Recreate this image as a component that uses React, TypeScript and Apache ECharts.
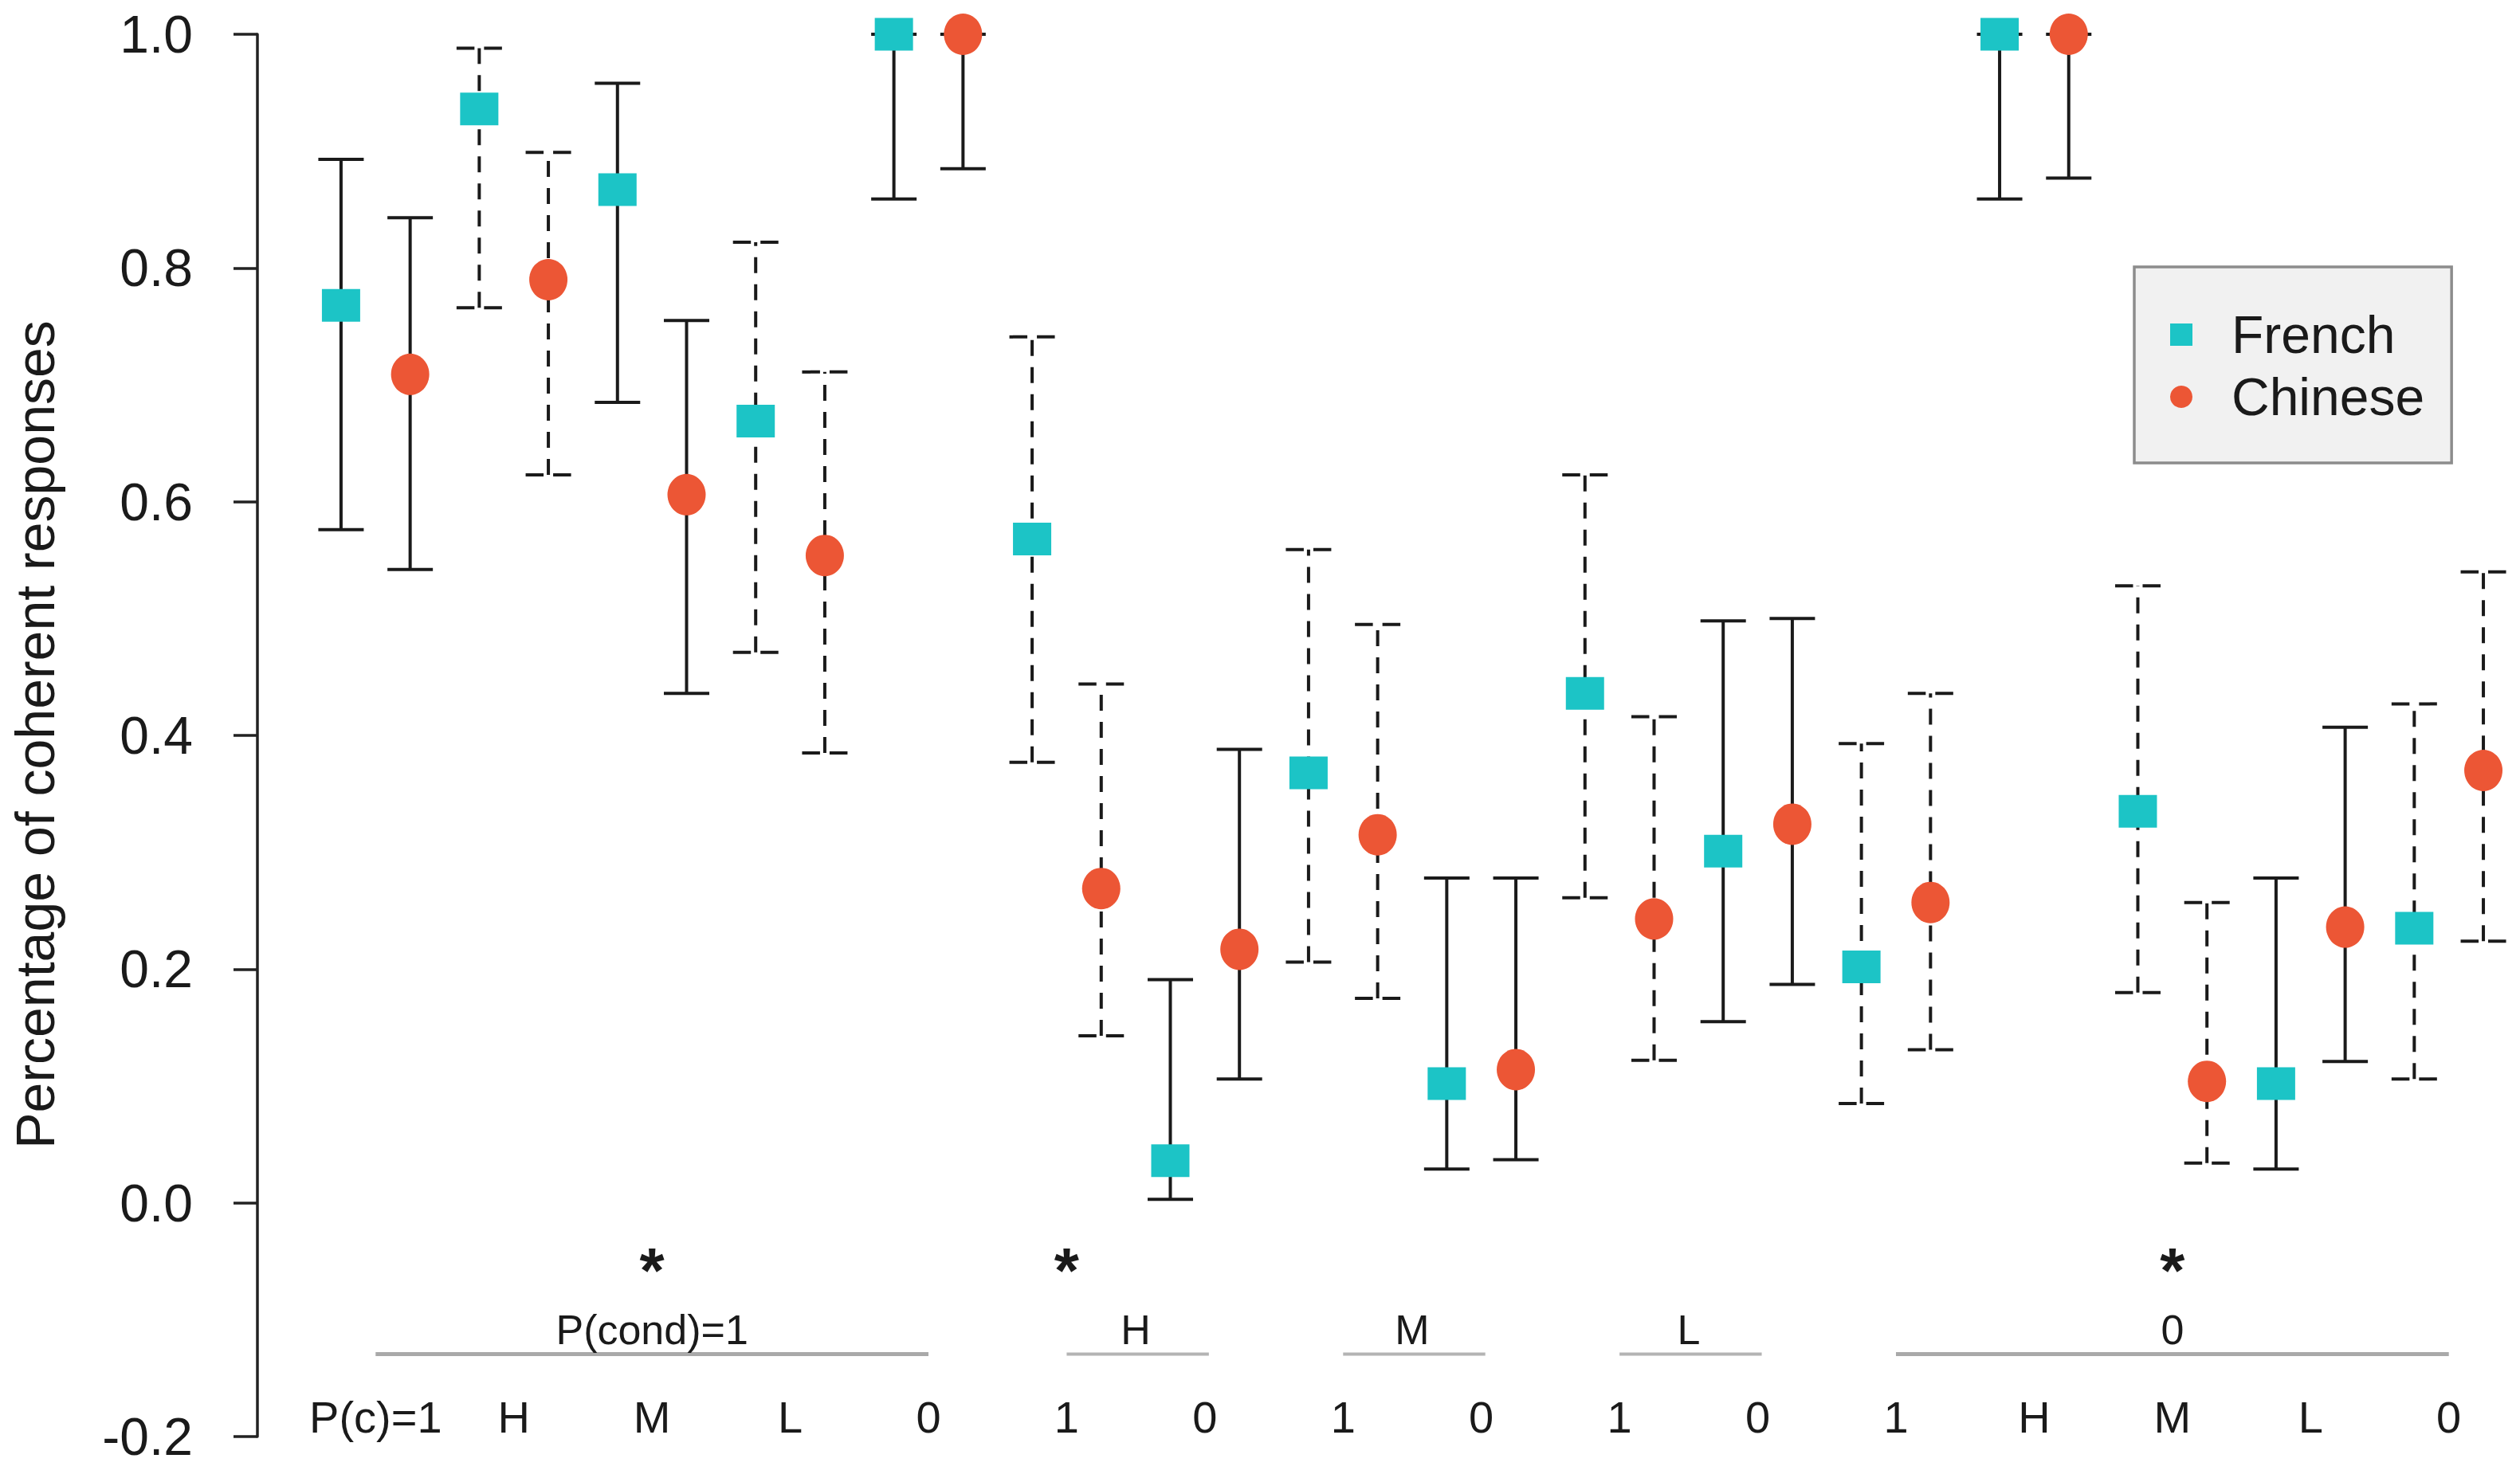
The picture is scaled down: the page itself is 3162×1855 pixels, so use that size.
import React, { useEffect, useRef } from "react";
import * as echarts from "echarts";

// ---------- data ----------
const pairLabels = ["P(c)=1", "H", "M", "L", "0", "1", "0", "1", "0", "1", "0", "1", "H", "M", "L", "0"];
const dashedPairs = [false, true, false, true, false, true, false, true, false, true, false, true, false, true, false, true];

const frenchMean = [0.768, 0.936, 0.867, 0.669, 1.0, 0.568, 0.036, 0.368, 0.102, 0.436, 0.301, 0.202, 1.0, 0.335, 0.102, 0.235];
const frenchLow = [0.576, 0.766, 0.685, 0.471, 0.859, 0.377, 0.003, 0.206, 0.029, 0.261, 0.155, 0.085, 0.859, 0.18, 0.029, 0.106];
const frenchHigh = [0.893, 0.988, 0.958, 0.822, 1.0, 0.741, 0.191, 0.559, 0.278, 0.623, 0.498, 0.393, 1.0, 0.528, 0.278, 0.427];

const chineseMean = [0.709, 0.79, 0.606, 0.554, 1.0, 0.269, 0.217, 0.315, 0.114, 0.243, 0.324, 0.257, 1.0, 0.104, 0.236, 0.37];
const chineseLow = [0.542, 0.623, 0.436, 0.385, 0.885, 0.143, 0.106, 0.175, 0.037, 0.122, 0.187, 0.131, 0.877, 0.034, 0.121, 0.224];
const chineseHigh = [0.843, 0.899, 0.755, 0.711, 1.0, 0.444, 0.388, 0.495, 0.278, 0.416, 0.5, 0.436, 1.0, 0.257, 0.407, 0.54];

const groupNames = ["P(cond)=1", "H", "M", "L", "0"];
const groupStartPair = [0, 5, 7, 9, 11];
const groupEndPair = [4, 6, 8, 10, 15];
const groupMajor = [true, false, false, false, true];
const asteriskPairs = [2, 5, 13];

const seriesNames = ["French", "Chinese"];
const yTitle = "Percentage of coherent responses";

// ---------- style ----------
const TEAL = "#1cc4c6";
const RED = "#ec5635";
const INK = "#1a1a1a";
const FONT = "'Liberation Sans', Arial, Helvetica, sans-serif";

const Y_ASTERISK = -0.0575;
const Y_GROUP_LABEL = -0.1085;
const Y_GROUP_LINE = -0.1295;
const Y_PAIR_LABEL = -0.1834;

const fx = (k: number) => 2 * k;
const cx = (k: number) => 2 * k + 1;
const pc = (k: number) => 2 * k + 0.5;

export default function App() {
  const ref = useRef<HTMLDivElement>(null);

  useEffect(() => {
    if (!ref.current) return;
    const chart = echarts.init(ref.current, null, { renderer: "svg" });

    const errData: number[][] = [];
    frenchMean.forEach((_, k) => {
      errData.push([fx(k), frenchLow[k], frenchHigh[k], dashedPairs[k] ? 1 : 0]);
      errData.push([cx(k), chineseLow[k], chineseHigh[k], dashedPairs[k] ? 1 : 0]);
    });

    const option: any = {
      animation: false,
      backgroundColor: "#ffffff",
      grid: { left: 323, right: 0, top: 43, bottom: 52, outerBoundsMode: "none", containLabel: false },
      xAxis: { type: "value", min: -1.21, max: 31.53, show: false },
      yAxis: {
        type: "value",
        min: -0.2,
        max: 1.0,
        interval: 0.2,
        axisLine: { show: true, onZero: false, lineStyle: { color: "#222", width: 3.5 } },
        axisTick: { show: true, inside: false, length: 30, lineStyle: { color: "#222", width: 3.5 } },
        axisLabel: {
          show: true,
          fontSize: 66,
          color: INK,
          margin: 81,
          fontFamily: FONT,
          formatter: (v: number) => v.toFixed(1),
        },
        splitLine: { show: false },
      },
      legend: {
        data: seriesNames,
        orient: "vertical",
        left: 2678,
        top: 335,
        padding: [52, 34, 50, 45],
        itemGap: 12,
        itemWidth: 28,
        itemHeight: 28,
        backgroundColor: "#f1f1f1",
        borderColor: "#8c8c8c",
        borderWidth: 3.5,
        selectedMode: false,
        textStyle: { fontSize: 66, lineHeight: 66, color: INK, fontFamily: FONT, padding: [0, 0, 0, 44] },
      },
      graphic: [
        {
          type: "text",
          x: 44,
          y: 922,
          rotation: Math.PI / 2,
          style: {
            text: yTitle,
            fontSize: 68,
            fontFamily: FONT,
            fill: INK,
            align: "center",
            verticalAlign: "middle",
          },
        },
      ],
      series: [
        {
          type: "custom",
          name: "errorbars",
          clip: false,
          z: 2,
          encode: { x: 0, y: [1, 2] },
          data: errData,
          renderItem: (params: any, api: any) => {
            const x = api.value(0);
            const lo = api.value(1);
            const hi = api.value(2);
            const dashed = api.value(3) === 1;
            const pLo = api.coord([x, lo]);
            const pHi = api.coord([x, hi]);
            const hw = 28.5;
            const vStyle: any = { stroke: INK, lineWidth: 4 };
            const cStyle: any = { stroke: INK, lineWidth: 4 };
            if (dashed) {
              vStyle.lineDash = [20, 14];
              cStyle.lineDash = [22.5, 12];
            }
            return {
              type: "group",
              children: [
                { type: "line", shape: { x1: pLo[0], y1: pLo[1], x2: pHi[0], y2: pHi[1] }, style: vStyle },
                { type: "line", shape: { x1: pHi[0] - hw, y1: pHi[1], x2: pHi[0] + hw, y2: pHi[1] }, style: cStyle },
                { type: "line", shape: { x1: pLo[0] - hw, y1: pLo[1], x2: pLo[0] + hw, y2: pLo[1] }, style: cStyle },
              ],
            };
          },
        },
        {
          type: "scatter",
          name: "French",
          clip: false,
          z: 3,
          symbol: "rect",
          symbolSize: [48, 41],
          itemStyle: { color: TEAL, opacity: 1 },
          data: frenchMean.map((v, k) => [fx(k), v]),
        },
        {
          type: "scatter",
          name: "Chinese",
          clip: false,
          z: 3,
          symbol: "circle",
          symbolSize: [48, 52],
          itemStyle: { color: RED, opacity: 1 },
          data: chineseMean.map((v, k) => [cx(k), v]),
        },
        {
          type: "custom",
          name: "pairLabels",
          clip: false,
          silent: true,
          data: pairLabels.map((_, k) => [pc(k), Y_PAIR_LABEL]),
          renderItem: (params: any, api: any) => {
            const p = api.coord([api.value(0), api.value(1)]);
            return {
              type: "text",
              x: p[0],
              y: p[1],
              style: {
                text: pairLabels[params.dataIndex],
                fontSize: 56,
                fontFamily: FONT,
                fill: INK,
                align: "center",
                verticalAlign: "middle",
              },
            };
          },
        },
        {
          type: "custom",
          name: "groupLines",
          clip: false,
          silent: true,
          encode: { x: [0, 1], y: 2 },
          data: groupNames.map((_, g) => [pc(groupStartPair[g]), pc(groupEndPair[g]), Y_GROUP_LINE]),
          renderItem: (params: any, api: any) => {
            const a = api.coord([api.value(0), api.value(2)]);
            const b = api.coord([api.value(1), api.value(2)]);
            const major = groupMajor[params.dataIndex];
            return {
              type: "line",
              shape: { x1: a[0], y1: a[1], x2: b[0] + (major ? 0 : 5), y2: b[1] },
              style: { stroke: major ? "#a9a9a9" : "#b4b4b4", lineWidth: major ? 5 : 4 },
            };
          },
        },
        {
          type: "custom",
          name: "groupLabels",
          clip: false,
          silent: true,
          data: groupNames.map((_, g) => [(pc(groupStartPair[g]) + pc(groupEndPair[g])) / 2, Y_GROUP_LABEL]),
          renderItem: (params: any, api: any) => {
            const p = api.coord([api.value(0), api.value(1)]);
            return {
              type: "text",
              x: p[0],
              y: p[1],
              style: {
                text: groupNames[params.dataIndex],
                fontSize: 52,
                fontFamily: FONT,
                fill: INK,
                align: "center",
                verticalAlign: "middle",
              },
            };
          },
        },
        {
          type: "custom",
          name: "asterisks",
          clip: false,
          silent: true,
          data: asteriskPairs.map((k) => [pc(k), Y_ASTERISK]),
          renderItem: (params: any, api: any) => {
            const p = api.coord([api.value(0), api.value(1)]);
            return {
              type: "text",
              x: p[0],
              y: p[1],
              style: {
                text: "*",
                fontSize: 80,
                fontWeight: "bold",
                fontFamily: FONT,
                fill: INK,
                align: "center",
                verticalAlign: "middle",
              },
            };
          },
        },
      ],
    };

    chart.setOption(option);
    return () => {
      chart.dispose();
    };
  }, []);

  return (
    <div
      ref={ref}
      style={{ position: "absolute", left: 0, top: 0, width: 3162, height: 1855, background: "#fff" }}
    />
  );
}
